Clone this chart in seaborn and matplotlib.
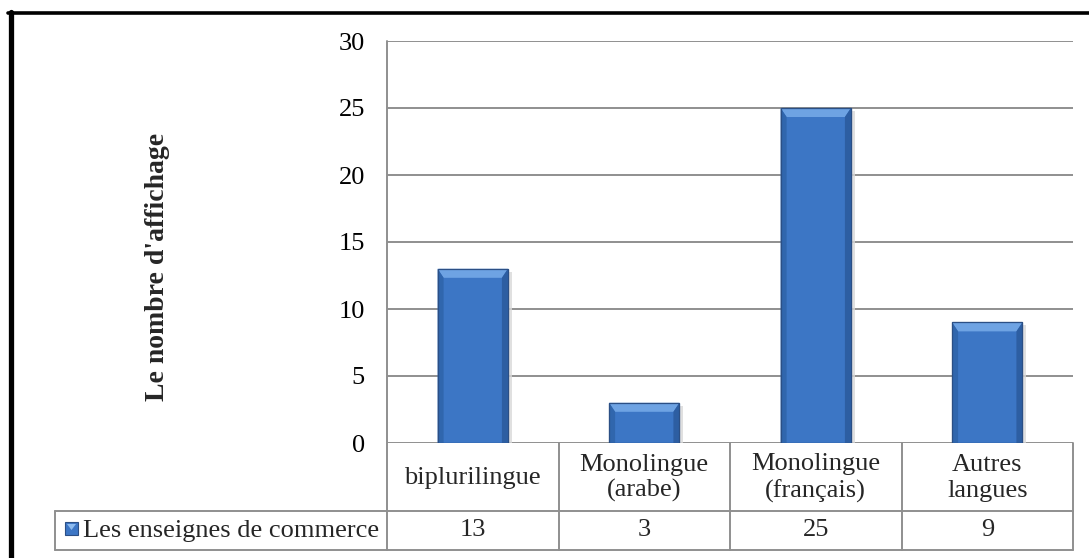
import matplotlib
matplotlib.use("Agg")
import matplotlib.pyplot as plt
import matplotlib.transforms as mtransforms
from matplotlib.patches import Rectangle, Polygon
from matplotlib.lines import Line2D
import seaborn as sns
import pandas as pd

# Data
categories = ["biplurilingue", "Monolingue\n(arabe)", "Monolingue\n(français)", "Autres\nlangues"]
values = [13, 3, 25, 9]
series_name = "Les enseignes de commerce"
y_label = "Le nombre d'affichage"
y_ticks = [0, 5, 10, 15, 20, 25, 30]

W, H = 1089, 558
sns.set_theme(style="white")
plt.rcParams["font.family"] = ["Liberation Serif", "DejaVu Serif"]

fig = plt.figure(figsize=(W / 100, H / 100), dpi=100)
fig.patch.set_facecolor("white")


def fx(px):
    return px / W


def fy(py):
    return 1 - py / H


# plot area in pixel units
L, R, T, B = 387, 1073, 41, 443
ax = fig.add_axes([fx(L), fy(B), fx(R) - fx(L), fy(T) - fy(B)])

df = pd.DataFrame({"cat": categories, "val": values})
sns.barplot(data=df, x="cat", y="val", ax=ax, color="#3c76c5",
            width=0.41, saturation=1, edgecolor="#2b558f", linewidth=0.8,
            zorder=3)

ax.set_ylim(0, 30)
ax.set_xlim(-0.5, len(categories) - 0.5)
ax.set_yticks(y_ticks)
ax.set_yticklabels([str(t) for t in y_ticks], fontsize=19, color="black")
ax.tick_params(axis="y", length=0, pad=16)
ax.set_xticks([])
ax.set_xlabel("")
ax.set_ylabel("")
for s in ax.spines.values():
    s.set_visible(False)
ax.yaxis.grid(True, color="#8f8f8f", linewidth=1.4, zorder=0)
ax.set_axisbelow(True)

# bevel shading on each bar, derived from the bar geometry
px_x = (R - L) / len(categories)  # pixels per category unit
px_y = (B - T) / 30.0             # pixels per value unit
bx = 6.0 / px_x
by = 9.0 / px_y
for p in ax.patches:
    x0, w, h = p.get_x(), p.get_width(), p.get_height()
    x1 = x0 + w
    ax.add_patch(Rectangle((x1, 0), 4 / px_x, h - 3 / px_y, facecolor="#d9d9d9",
                           edgecolor="none", zorder=2, alpha=0.8))
    ax.add_patch(Polygon([(x0, h), (x1, h), (x1 - bx, h - by), (x0 + bx, h - by)],
                         closed=True, facecolor="#6ea3e3", edgecolor="none", zorder=4))
    ax.add_patch(Polygon([(x0, 0), (x0, h), (x0 + bx, h - by), (x0 + bx, 0)],
                         closed=True, facecolor="#3066ad", edgecolor="none", zorder=4))
    ax.add_patch(Polygon([(x1, 0), (x1, h), (x1 - bx, h - by), (x1 - bx, 0)],
                         closed=True, facecolor="#2d5ea2", edgecolor="none", zorder=4))
    ax.add_patch(Rectangle((x0, 0), w, h, facecolor="none", edgecolor="#2b4f85",
                           linewidth=0.9, zorder=5))

# data table under the plot
grid_c = "#8f8f8f"
lw = 1.4
row1_bottom = 511
row2_bottom = 550
leg_left = 55

col_edges = [L + i * px_x for i in range(len(categories) + 1)]


def hline(x0, x1, y):
    fig.add_artist(Line2D([fx(x0), fx(x1)], [fy(y), fy(y)], color=grid_c, lw=lw))


def vline(x, y0, y1):
    fig.add_artist(Line2D([fx(x), fx(x)], [fy(y0), fy(y1)], color=grid_c, lw=lw))


vline(L, T, row2_bottom)
for xe in col_edges[1:]:
    vline(xe, B, row2_bottom)
hline(leg_left, R, row1_bottom)
hline(leg_left, R, row2_bottom)
vline(leg_left, row1_bottom, row2_bottom)

blend = mtransforms.blended_transform_factory(ax.transData, fig.transFigure)
for i, (c, v) in enumerate(zip(categories, values)):
    fig.text(i, fy((B + row1_bottom) / 2 + 1), c, transform=blend,
             ha="center", va="center", fontsize=19, linespacing=1.2)
    fig.text(i, fy((row1_bottom + row2_bottom) / 2), str(v), transform=blend,
             ha="center", va="center", fontsize=19)

# legend key and series name
fig.add_artist(Rectangle((fx(65), fy(535)), fx(13), 13 / H, transform=fig.transFigure,
                         facecolor="#3c76c5", edgecolor="#2b4f85", linewidth=0.8))
fig.add_artist(Polygon([(fx(67), fy(524)), (fx(76), fy(524)), (fx(71.5), fy(530))],
                       closed=True, transform=fig.transFigure,
                       facecolor="#8dbbef", edgecolor="none"))
fig.text(fx(83), fy((row1_bottom + row2_bottom) / 2), series_name,
         ha="left", va="center", fontsize=19)

# y-axis title
fig.text(fx(157), fy(267), y_label, rotation=90, ha="center", va="center",
         fontsize=20, fontweight="bold")

# outer frame
fig.add_artist(Line2D([fx(10.5), fx(10.5)], [fy(12), fy(H)], color="black", lw=3.8))
fig.add_artist(Line2D([fx(8), fx(W)], [fy(13), fy(13)], color="black", lw=2.6))

fig.savefig("out.png", dpi=100, facecolor="white")
